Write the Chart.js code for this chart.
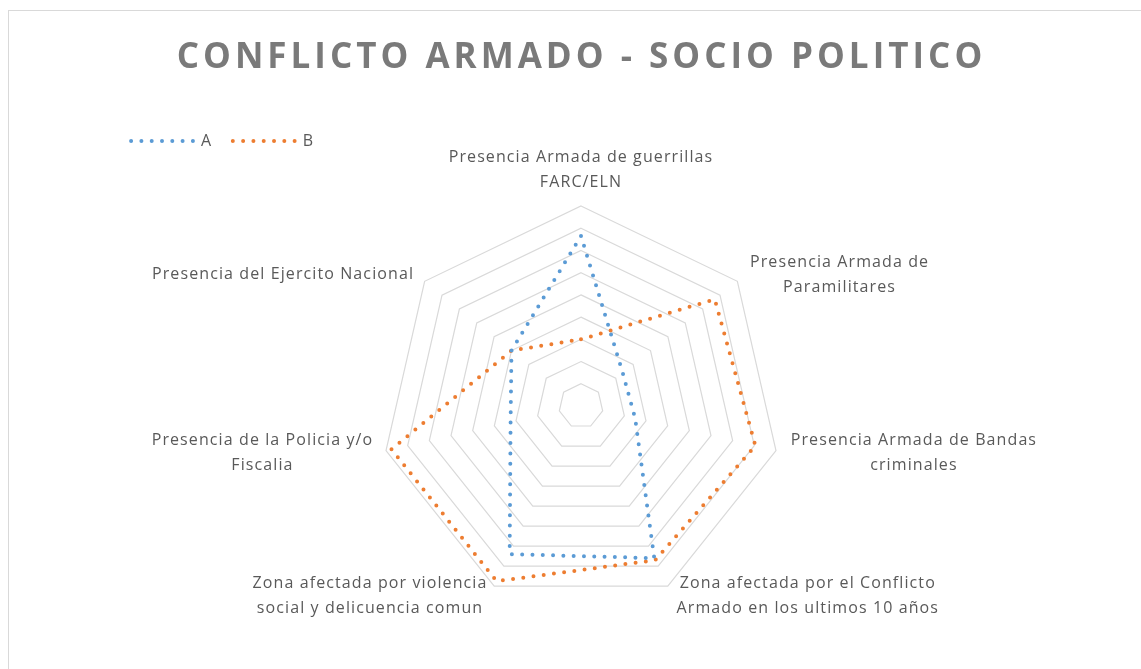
<!DOCTYPE html>
<html>
<head>
<meta charset="utf-8">
<script src="https://cdn.jsdelivr.net/npm/chart.js@4/dist/chart.umd.min.js"></script>
<style>
  html, body { margin: 0; padding: 0; background: #ffffff; overflow: hidden; }
  #wrap { position: relative; width: 1141px; height: 669px; }
  #frame { position: absolute; left: 8px; top: 10px; width: 1160px; height: 700px; border: 1px solid #d9d9d9; box-sizing: border-box; pointer-events: none; }
  canvas { position: absolute; left: 0; top: 0; }
</style>
</head>
<body>
<div id="wrap">
  <div id="frame"></div>
  <canvas id="c" width="1141" height="669"></canvas>
</div>
<script>
// ---- data ----
const titleText = "CONFLICTO ARMADO - SOCIO POLITICO";
const categories = [
  ["Presencia Armada de guerrillas", "FARC/ELN"],
  ["Presencia Armada de", "Paramilitares"],
  ["Presencia Armada de Bandas", "criminales"],
  ["Zona afectada por el Conflicto", "Armado en los ultimos 10 años"],
  ["Zona afectada por violencia", "social y delicuencia comun"],
  ["Presencia de la Policia y/o", "Fiscalia"],
  ["Presencia del Ejercito Nacional"]
];
const seriesNames = ["A", "B"];
const seriesA = [7.65, 2.4, 2.5, 7.6, 7.4, 3.25, 4.0];
const seriesB = [3.0, 7.7, 8.05, 7.7, 8.75, 8.75, 4.0];
const scaleMin = 0;
const scaleMax = 9;
const scaleStep = 1;

const LABEL_FONT = '16px "Open Sans"';
const LABEL_COLOR = '#595959';
const DOT_DASH = [0, 10.3];
const LINE_W = 4;

const pointLabelPlugin = {
  id: 'excelPointLabels',
  beforeDraw(chart) {
    chart.ctx.letterSpacing = '4px';
  },
  afterDraw(chart) {
    const ctx = chart.ctx;
    ctx.letterSpacing = '0px';
    const scale = chart.scales.r;
    ctx.save();
    ctx.font = LABEL_FONT;
    ctx.letterSpacing = '1.1px';
    ctx.fillStyle = LABEL_COLOR;
    ctx.textBaseline = 'middle';
    ctx.textAlign = 'center';
    const lh = 25;
    chart.data.labels.forEach((lines, i) => {
      const arr = Array.isArray(lines) ? lines : [lines];
      const p = scale.getPointPosition(i, scale.drawingArea + 11);
      const bw = Math.max(...arr.map(l => ctx.measureText(l).width));
      const bh = arr.length * lh;
      let cx, cy;
      if (Math.abs(p.x - scale.xCenter) < 2) { cx = p.x; cy = p.y - bh / 2; }
      else if (p.x > scale.xCenter) { cx = p.x + 4 + bw / 2; cy = p.y; }
      else { cx = p.x - 2 - bw / 2; cy = p.y; }
      arr.forEach((l, k) => ctx.fillText(l, cx, cy - bh / 2 + lh * (k + 0.5)));
    });
    ctx.restore();
    ctx.letterSpacing = '0px';
  }
};

new Chart(document.getElementById('c'), {
  type: 'radar',
  data: {
    labels: categories,
    datasets: [
      { label: seriesNames[0], data: seriesA, borderColor: '#5B9BD5', backgroundColor: '#5B9BD5',
        borderWidth: LINE_W, borderDash: DOT_DASH, borderCapStyle: 'round', borderJoinStyle: 'round',
        fill: false, pointRadius: 0, pointHoverRadius: 0, tension: 0 },
      { label: seriesNames[1], data: seriesB, borderColor: '#ED7D31', backgroundColor: '#ED7D31',
        borderWidth: LINE_W, borderDash: DOT_DASH, borderCapStyle: 'round', borderJoinStyle: 'round',
        fill: false, pointRadius: 0, pointHoverRadius: 0, tension: 0 }
    ]
  },
  options: {
    responsive: false,
    animation: false,
    layout: { padding: { left: 113.5, right: 91.5, top: 0, bottom: 63 } },
    scales: {
      r: {
        min: scaleMin, max: scaleMax,
        ticks: { display: false, stepSize: scaleStep },
        grid: { color: '#d9d9d9', lineWidth: 1.2, circular: false },
        angleLines: { display: false },
        pointLabels: { display: false }
      }
    },
    plugins: {
      title: {
        display: true, text: titleText, color: '#7a7a7a',
        font: { family: '"Open Sans"', size: 35, weight: 'bold', lineHeight: 1.2 },
        padding: { top: 37, bottom: 36.4 }
      },
      legend: {
        display: true, position: 'top', align: 'start',
        labels: {
          usePointStyle: true, pointStyle: 'line', pointStyleWidth: 62,
          color: LABEL_COLOR, font: { family: '"Open Sans"', size: 16 }, padding: 17.6,
          generateLabels(chart) {
            const items = Chart.defaults.plugins.legend.labels.generateLabels(chart);
            items.forEach(it => {
              const ds = chart.data.datasets[it.datasetIndex];
              it.lineDash = ds.borderDash;
              it.lineCap = ds.borderCapStyle;
              it.lineWidth = ds.borderWidth;
              it.strokeStyle = ds.borderColor;
              it.fillStyle = ds.borderColor;
            });
            return items;
          }
        }
      },
      subtitle: {
        display: true, text: ' ', weight: 500, position: 'top',
        font: { size: 10, lineHeight: 1 }, padding: { top: 0, bottom: 37 }
      },
      tooltip: { enabled: false }
    }
  },
  plugins: [pointLabelPlugin]
});
</script>
</body>
</html>
